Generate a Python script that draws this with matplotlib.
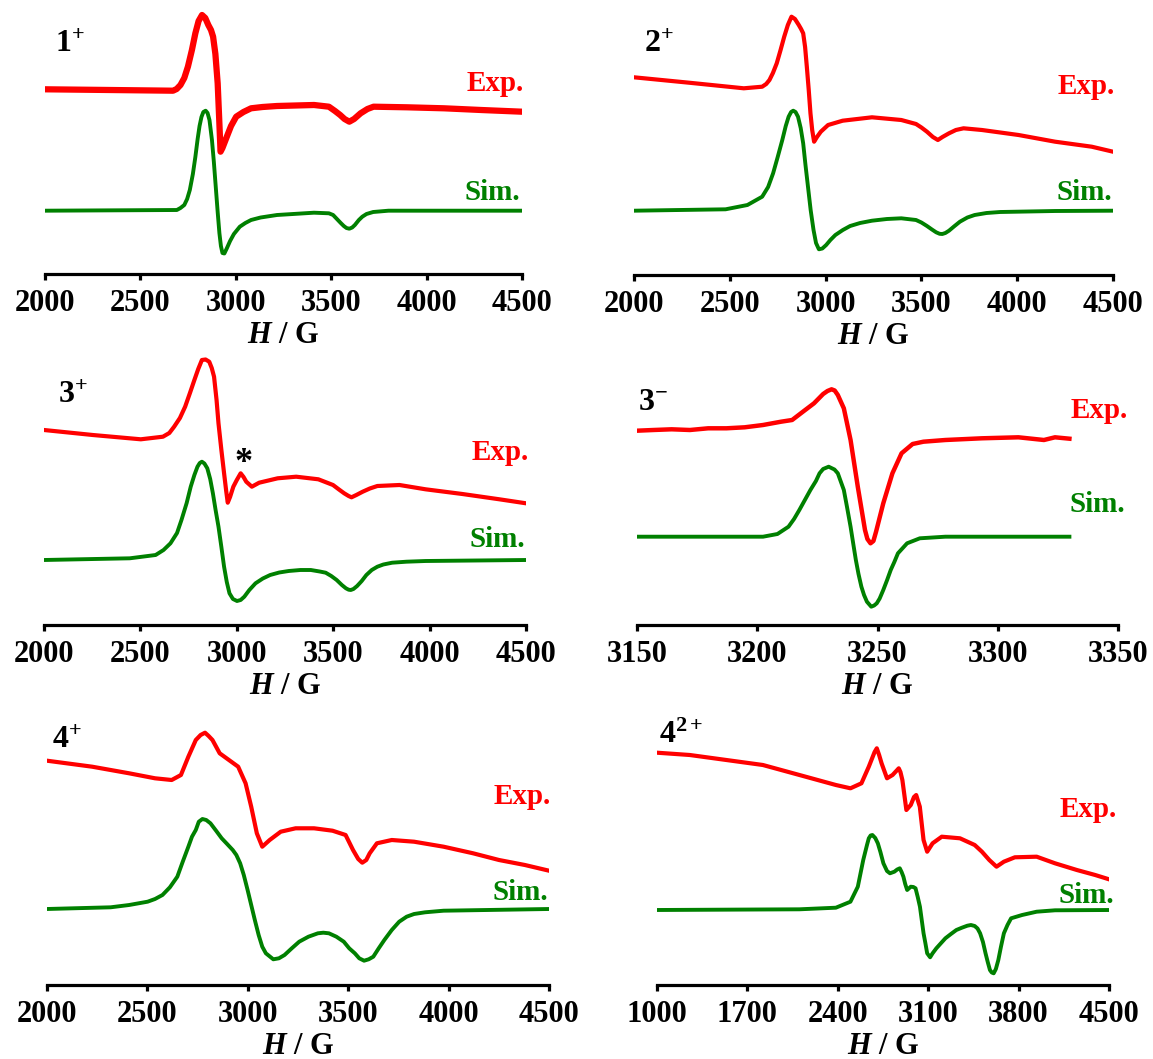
import matplotlib
matplotlib.use("Agg")
import matplotlib.pyplot as plt

plt.rcParams['font.family'] = ['Liberation Serif', 'DejaVu Serif']
plt.rcParams['font.weight'] = 'bold'
plt.rcParams['mathtext.fontset'] = 'custom'
plt.rcParams['mathtext.rm'] = 'Liberation Serif'
plt.rcParams['mathtext.bf'] = 'Liberation Serif:bold'
plt.rcParams['mathtext.it'] = 'Liberation Serif:italic:bold'

# ---- data (field in G, intensity in arbitrary units) ----
# 1+
p1_exp_x = [2000, 2340, 2671, 2690, 2710, 2730, 2749, 2770, 2788, 2805, 2823, 2840, 2856, 2870, 2881, 2893,
            2905, 2913, 2920, 2930, 2953, 2975, 3002, 3040, 3080, 3140, 3216, 3410, 3488, 3520, 3547, 3570,
            3595, 3620, 3654, 3690, 3722, 3897, 4091, 4286, 4500]
p1_exp_y = [184.7, 184, 183.3, 185, 189, 196, 207.3, 224, 240.7, 253, 259, 256, 249, 244, 237.3, 220,
            190.7, 155, 122.3, 126, 137.3, 148, 157.3, 162, 165.7, 167, 168, 169, 167.3, 163, 159, 155,
            152.3, 155, 160.7, 165, 167.3, 166.7, 165.7, 164, 162.3]
p1_sim_x = [2000, 2691, 2710, 2730, 2745, 2759, 2775, 2788, 2800, 2810, 2820, 2830, 2842, 2852, 2862, 2875,
            2885, 2895, 2905, 2914, 2922, 2930, 2940, 2953, 2970, 2990, 3021, 3050, 3080, 3130, 3216, 3410,
            3488, 3510, 3530, 3550, 3566, 3580, 3595, 3610, 3624, 3645, 3663, 3685, 3720, 3800, 4500]
p1_sim_y = [63.3, 64, 66, 69, 75, 84, 100, 117, 135, 148, 157, 162, 163.3, 161, 154, 134,
            112, 87, 62, 41, 28, 21, 20.5, 25.7, 33, 40, 47.3, 51, 54, 56.5, 59, 61.3,
            60.7, 59, 55, 51, 48, 46, 45.3, 46.5, 49, 54, 57.3, 60, 62, 63.3, 63.3]

# 2+
p2_exp_x = [2000, 2287, 2573, 2669, 2690, 2707, 2725, 2745, 2765, 2784, 2803, 2822, 2840, 2860, 2872, 2883,
            2893, 2902, 2912, 2921, 2930, 2940, 2955, 2975, 3013, 3089, 3242, 3395, 3472, 3500, 3529, 3560,
            3586, 3610, 3644, 3680, 3720, 3816, 4007, 4198, 4389, 4500]
p2_exp_y = [197.7, 192.3, 186.7, 188.3, 191, 195, 202, 211.7, 225, 238.3, 250, 258.3, 256, 250, 246, 241.7,
            228, 208.3, 185, 161.7, 145, 133.3, 138, 143.3, 150, 154.3, 157.7, 155, 151, 147.5, 143.3, 138,
            135, 138, 141.7, 145, 146.7, 145, 140, 133.3, 128.3, 123.3]
p2_sim_x = [2000, 2478, 2592, 2669, 2700, 2726, 2750, 2774, 2792, 2807, 2820, 2831, 2843, 2856, 2870, 2883,
            2895, 2908, 2922, 2937, 2950, 2965, 2983, 3003, 3025, 3051, 3090, 3128, 3180, 3242, 3320, 3395,
            3472, 3500, 3529, 3555, 3577, 3595, 3609, 3625, 3644, 3670, 3701, 3740, 3778, 3840, 3911, 4198,
            4500]
p2_sim_y = [64.3, 65.7, 70, 78.3, 88, 101.7, 118, 135, 149, 158.3, 163, 164.3, 163, 158.3, 147, 131.7,
            110, 88.3, 65, 45, 32, 25.7, 26.5, 30, 35, 40, 45, 49, 52, 54.3, 56, 56.7,
            55, 52.5, 49, 45.5, 42.7, 41.2, 41, 42, 44.3, 48.5, 53.3, 57.5, 60, 62, 63, 64,
            64.3]

# 3+
p3_exp_x = [2000, 2253, 2502, 2617, 2650, 2675, 2705, 2732, 2757, 2780, 2800, 2819, 2838, 2857, 2870, 2882,
            2895, 2905, 2920, 2934, 2945, 2953, 2965, 2982, 3000, 3020, 3035, 3049, 3078, 3116, 3212, 3308,
            3423, 3499, 3530, 3557, 3580, 3595, 3620, 3653, 3690, 3729, 3844, 3979, 4170, 4362, 4500]
p3_exp_y = [195, 190, 185.7, 188.3, 192, 198.3, 207, 218.3, 232, 245, 256, 265, 265.5, 263.3, 257, 248.3,
            225, 201.7, 175, 151.7, 134, 122.3, 128, 138.3, 145, 151.7, 148, 143.3, 138.3, 142.3, 146.7, 148.3,
            145.7, 140, 135.5, 131.7, 129, 127.7, 130, 133.3, 136.5, 139, 140, 135.7, 131, 125.7, 121.7]
p3_sim_x = [2000, 2445, 2579, 2620, 2656, 2690, 2713, 2740, 2761, 2780, 2796, 2808, 2819, 2832, 2847, 2862,
            2876, 2890, 2905, 2920, 2934, 2948, 2962, 2980, 3001, 3020, 3039, 3065, 3097, 3135, 3173, 3220,
            3269, 3330, 3384, 3430, 3461, 3490, 3518, 3545, 3566, 3580, 3591, 3605, 3624, 3648, 3672, 3700,
            3729, 3760, 3806, 3880, 3979, 4500]
p3_sim_y = [65, 66.7, 70, 75, 81.7, 92, 105, 122, 138.3, 150, 158.3, 162, 163.3, 161.5, 156.7, 146,
            131.7, 115, 98.3, 78, 58.3, 43, 31.7, 26, 24, 25, 28.3, 35, 41.7, 46.5, 50, 52.5,
            54, 55, 55, 53.5, 52.3, 49, 45, 40, 36.7, 35.3, 35, 36, 39, 44, 50, 55,
            58.3, 60.5, 62.3, 63.3, 64, 65]

# 3-
p4_exp_x = [3150, 3156.8, 3164.4, 3172, 3179.6, 3187.2, 3194.8, 3202.4, 3209.9, 3214.5, 3219, 3223.6,
            3227.4, 3229.2, 3230.9, 3232.2, 3233.5, 3236, 3238.8, 3241.8, 3244.8, 3245.8, 3247.1, 3248.3,
            3249.4, 3252.4, 3256.2, 3260, 3264.6, 3269.1, 3278.2, 3293.4, 3308.6, 3319.2, 3323.8, 3329.8]
p4_exp_y = [194.3, 195, 195.7, 195, 196.7, 196.7, 197.7, 200, 203.3, 205, 213.3, 221.7,
            231, 234, 235.7, 234.5, 230, 216.7, 185, 138.3, 95, 86, 81.7, 84,
            93.3, 121.7, 151.7, 171.7, 181, 183.3, 185, 186.7, 187.7, 185, 187.7, 186.3]
p4_sim_x = [3150, 3202.4, 3208.4, 3213, 3215.3, 3217.5, 3219.8, 3222.1, 3224.4, 3225.9, 3227.4, 3229.7,
            3232.1, 3233.5, 3235, 3236, 3237.3, 3238.8, 3240, 3241, 3242.1, 3243.3, 3244.4, 3245.6, 3247.4,
            3248.6, 3249.7, 3250.9, 3252.4, 3254, 3255.5, 3257, 3258.5, 3262.3, 3267.6, 3278.2, 3329.8]
p4_sim_y = [88.3, 88.3, 91, 98.3, 106, 115, 125, 135, 144, 151.7, 156, 158.3,
            155.5, 151.7, 141.7, 135, 118.3, 98.3, 80, 65, 51, 38.3, 30, 23.3, 18.3,
            19.5, 21.7, 26.5, 35, 45, 55, 63, 71.7, 81.7, 86.7, 88.3, 88.3]

# 4+
p5_exp_x = [2000, 2225, 2409, 2538, 2621, 2667, 2704, 2741, 2765, 2787, 2805, 2824, 2860, 2906, 2952, 2989,
            3017, 3045, 3072, 3109, 3164, 3238, 3330, 3422, 3487, 3524, 3550, 3570, 3590, 3607, 3643, 3717,
            3828, 3975, 4122, 4251, 4380, 4500]
p5_exp_y = [224.3, 218.3, 211.7, 206.7, 205, 210, 228.3, 245, 250, 252.3, 249, 245, 231.7, 225, 218.3, 201.7,
            178.3, 151.7, 138.3, 145, 153.3, 156.7, 156.7, 154.3, 150, 135, 126, 122.3, 125, 131.7, 141.7, 145,
            143.3, 138.3, 131.7, 125, 120, 114.3]
p5_sim_x = [2000, 2317, 2409, 2501, 2538, 2575, 2612, 2649, 2676, 2704, 2722, 2741, 2756, 2774, 2793, 2814,
            2842, 2870, 2897, 2925, 2943, 2962, 2980, 2999, 3017, 3035, 3054, 3072, 3090, 3127, 3155, 3183,
            3219, 3256, 3302, 3349, 3376, 3404, 3441, 3478, 3505, 3533, 3555, 3579, 3602, 3625, 3652, 3680,
            3717, 3754, 3791, 3828, 3883, 3975, 4500]
p5_sim_y = [76, 77.7, 80, 83.3, 86, 90, 97.7, 108.3, 123.3, 138.3, 148.3, 155, 163.3, 166, 165, 161.7,
            154.3, 146.7, 141, 135, 130, 121.7, 110, 95, 80, 65, 50, 38.3, 31.7, 25.7, 26.7, 30,
            36.7, 43.3, 48.3, 51.7, 52.3, 51.7, 48.3, 43.3, 36.7, 31.7, 26.7, 24.3, 25.7, 28.3, 36.7, 45,
            55, 63.3, 68.3, 71, 72.7, 74.3, 76]

# 4 2+
p6_exp_x = [1000, 1254, 1537, 1820, 2103, 2385, 2498, 2583, 2640, 2685, 2702, 2720, 2739, 2781, 2824, 2860,
            2872, 2885, 2900, 2931, 2965, 2990, 3007, 3035, 3064, 3092, 3134, 3205, 3346, 3460, 3516, 3573,
            3629, 3686, 3771, 3940, 4082, 4251, 4393, 4500]
p6_exp_y = [232.3, 230, 225, 220, 210, 200, 196.7, 201.7, 218.3, 233, 236.7, 230, 221.7, 206.7, 210, 215,
            216.7, 213, 205, 175, 180, 188, 190, 178.3, 145, 133.3, 141.7, 148.3, 146.7, 140, 133.3, 125,
            118.3, 123.3, 127.7, 128.3, 121.7, 115, 110, 105.7]
p6_sim_x = [1000, 2103, 2385, 2498, 2555, 2597, 2626, 2640, 2654, 2668, 2690, 2710, 2730, 2753, 2781, 2804,
            2838, 2860, 2880, 2894, 2908, 2922, 2937, 2965, 2985, 3002, 3019, 3036, 3050, 3064, 3078, 3092,
            3115, 3134, 3163, 3200, 3233, 3276, 3318, 3361, 3403, 3431, 3460, 3482, 3502, 3524, 3544, 3561,
            3578, 3592, 3607, 3624, 3643, 3663, 3686, 3714, 3742, 3827, 3940, 4082, 4500]
p6_sim_y = [75, 75.7, 77.3, 83.3, 98.3, 125, 140, 146.7, 149.5, 150, 147, 141.7, 133, 121.7, 114, 111.7,
            113.3, 115.5, 116.7, 113, 108.3, 101, 95, 98.3, 98, 96.7, 88, 78.3, 65, 51.7, 42, 31.7,
            27.7, 31.7, 36.7, 42, 46.7, 51, 55, 57.3, 59.3, 60, 59, 56.5, 51.7, 43, 31.7, 23,
            15, 12.5, 11.7, 16, 25, 38, 51.7, 60, 66.7, 70, 73.3, 74.7, 75]

xlims = [(2000, 4500), (2000, 4500), (2000, 4500), (3150, 3350), (2000, 4500), (1000, 4500)]
xticks = [[2000, 2500, 3000, 3500, 4000, 4500]] * 3 + [[3150, 3200, 3250, 3300, 3350],
          [2000, 2500, 3000, 3500, 4000, 4500], [1000, 1700, 2400, 3100, 3800, 4500]]
names = [r'$\mathbf{1}^{+}$', r'$\mathbf{2}^{+}$', r'$\mathbf{3}^{+}$', r'$\mathbf{3}^{-}$',
         r'$\mathbf{4}^{+}$', r'$\mathbf{4}^{\mathbf{2}+}$']
exp_sets = [(p1_exp_x, p1_exp_y), (p2_exp_x, p2_exp_y), (p3_exp_x, p3_exp_y),
            (p4_exp_x, p4_exp_y), (p5_exp_x, p5_exp_y), (p6_exp_x, p6_exp_y)]
sim_sets = [(p1_sim_x, p1_sim_y), (p2_sim_x, p2_sim_y), (p3_sim_x, p3_sim_y),
            (p4_sim_x, p4_sim_y), (p5_sim_x, p5_sim_y), (p6_sim_x, p6_sim_y)]

# ---- layout in pixels ----
W, H = 1153, 1059
fig = plt.figure(figsize=(W / 100, H / 100), dpi=100)

# (left tick px, right tick px, axis line px, top px)
boxes = [(45, 522, 274, 0), (634, 1113, 275, 0), (44, 526, 625, 345),
         (637, 1118, 625, 345), (47, 549, 985, 705), (657, 1109, 985, 705)]
name_pos = [(55, 52), (644, 52), (58, 403), (638, 410), (52, 748), (659, 743)]
exp_pos = [(524, 91), (1115, 94), (529, 460), (1128, 418), (551, 804), (1117, 817)]
sim_pos = [(520, 200), (1112, 200), (525, 547), (1125, 512), (548, 900), (1114, 903)]
red_lw = [4.5, 3, 3, 3.2, 3, 3]


def fx(px):
    return px / W


def fy(py):
    return 1 - py / H


for i in range(6):
    x0, x1, yb, yt = boxes[i]
    ax = fig.add_axes([fx(x0), fy(yb), (x1 - x0) / W, (yb - yt) / H])
    ax.set_xlim(*xlims[i])
    ax.set_ylim(0, yb - yt)
    ax.plot(*exp_sets[i], color='#ff0000', lw=red_lw[i], solid_joinstyle='round')
    ax.plot(*sim_sets[i], color='#008000', lw=2.8, solid_joinstyle='round')
    for s in ['top', 'left', 'right']:
        ax.spines[s].set_visible(False)
    ax.spines['bottom'].set_linewidth(2.3)
    ax.set_yticks([])
    ax.set_xticks(xticks[i])
    ax.tick_params(axis='x', direction='out', length=4.5, width=2.3, pad=6.5, labelsize=22)
    for lab in ax.get_xticklabels():
        lab.set_fontweight('bold')
    ax.set_xlabel(r'$\mathit{H}$ / G', fontsize=22, fontweight='bold', labelpad=2)
    ax.patch.set_alpha(0)

    fig.text(fx(name_pos[i][0]), fy(name_pos[i][1]), names[i], fontsize=23, va='baseline')
    fig.text(fx(exp_pos[i][0]), fy(exp_pos[i][1]), 'Exp.', color='#ff0000', fontsize=21,
             fontweight='bold', ha='right', va='baseline')
    fig.text(fx(sim_pos[i][0]), fy(sim_pos[i][1]), 'Sim.', color='#008000', fontsize=21,
             fontweight='bold', ha='right', va='baseline')

fig.text(fx(244), fy(463), '*', fontsize=26, fontweight='bold', ha='center', va='center')

fig.savefig('out.png', dpi=100)
